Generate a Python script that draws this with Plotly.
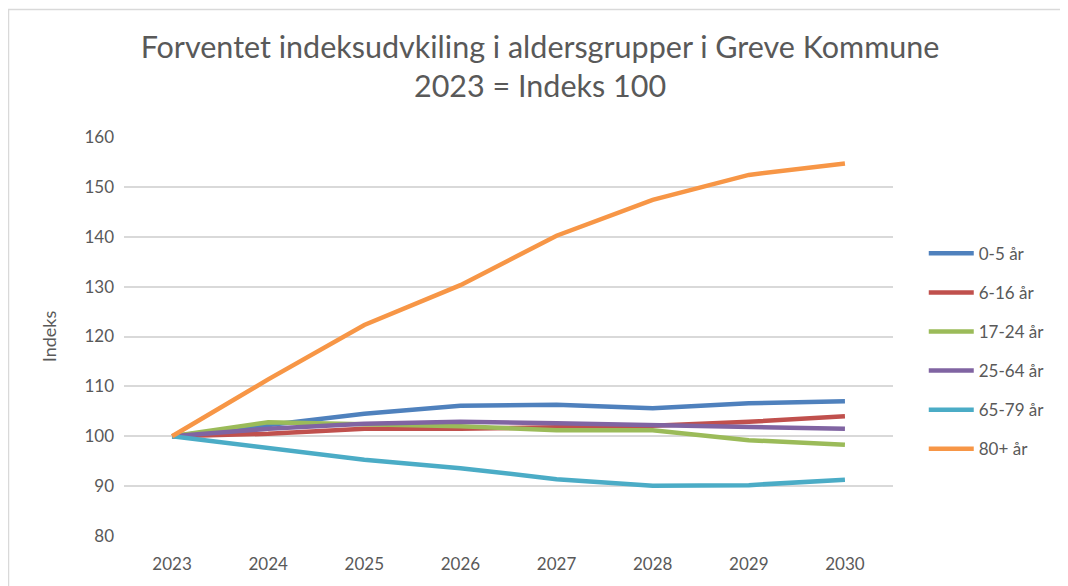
import plotly.graph_objects as go

years = ["2023", "2024", "2025", "2026", "2027", "2028", "2029", "2030"]
s_0_5 = [100, 102.2, 104.5, 106.1, 106.3, 105.6, 106.6, 107.0]
s_6_16 = [100, 100.5, 101.5, 101.5, 101.8, 102.1, 102.9, 104.0]
s_17_24 = [100, 102.8, 102.4, 102.0, 101.2, 101.2, 99.2, 98.3]
s_25_64 = [100, 101.5, 102.5, 102.9, 102.6, 102.2, 101.8, 101.5]
s_65_79 = [100, 97.7, 95.3, 93.6, 91.4, 90.1, 90.2, 91.3]
s_80 = [100, 111.4, 122.3, 130.3, 140.2, 147.4, 152.4, 154.7]

names = ["0-5 år", "6-16 år", "17-24 år", "25-64 år", "65-79 år", "80+ år"]
series = [s_0_5, s_6_16, s_17_24, s_25_64, s_65_79, s_80]
colors = ["#4f81bd", "#c0504d", "#9bbb59", "#8064a2", "#4bacc6", "#f79646"]

FONT = "Lato, 'Open Sans', sans-serif"
TXT = "#595959"

W, H = 1060, 578
L, T, PW, PH = 116, 129, 769, 402

fig = go.Figure()
for name, vals, col in zip(names, series, colors):
    fig.add_trace(go.Scatter(
        x=years, y=vals, mode="lines", name=name, legendgroup=name,
        line=dict(color=col, width=4.5),
    ))

fig.update_layout(
    width=W, height=H,
    margin=dict(l=L, r=W - L - PW, t=T, b=H - T - PH),
    paper_bgcolor="white", plot_bgcolor="white",
    font=dict(family=FONT, color=TXT, size=17),
    title=dict(
        text="Forventet indeksudvkiling i aldersgrupper i Greve Kommune<br>2023 = Indeks 100",
        x=0.541, xref="paper", xanchor="center", y=0.914, yanchor="middle",
        font=dict(family=FONT, size=30.5, color=TXT),
    ),
    xaxis=dict(
        type="category", range=[-0.5, 7.5], showgrid=False, zeroline=False,
        showline=False, ticks="", ticklabelstandoff=16,
        tickfont=dict(size=17, color=TXT),
    ),
    yaxis=dict(
        range=[80, 160], dtick=10, showgrid=True, gridcolor="#d9d9d9", gridwidth=1.5,
        zeroline=False, showline=False, ticks="", ticklabelstandoff=9,
        tickfont=dict(size=17, color=TXT),
        title=dict(text="Indeks", font=dict(size=18, color=TXT), standoff=23),
    ),
    legend=dict(
        x=1.040, xanchor="left", y=0.463, yanchor="middle",
        font=dict(size=17, color=TXT), tracegroupgap=14, itemwidth=45,
        bgcolor="rgba(0,0,0,0)",
    ),
    shapes=[dict(
        type="rect", xref="paper", yref="paper",
        x0=(0.5 - L) / PW, x1=(W + 20 - L) / PW,
        y0=-0.3, y1=(T + PH - 0.5) / PH,
        line=dict(color="#d9d9d9", width=1.5), fillcolor="rgba(0,0,0,0)", layer="below",
    )],
)

fig.write_html("out.html")
